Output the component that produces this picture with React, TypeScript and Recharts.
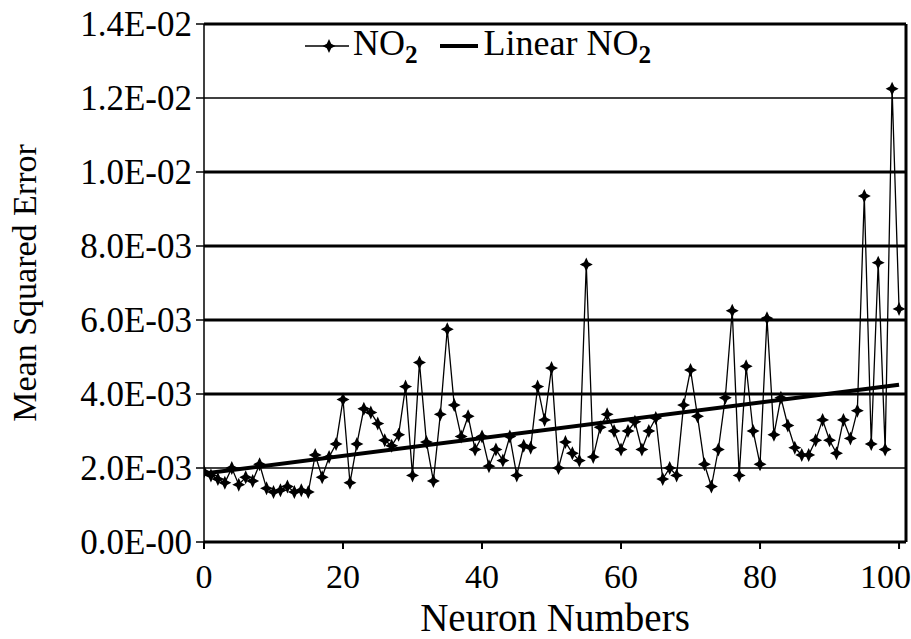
import { Line, LineChart, XAxis, YAxis, ReferenceLine } from 'recharts';

// MSE per neuron number (index = neuron number 0..100)
const mseValues = [
  1.9e-3, 1.8e-3, 1.7e-3, 1.6e-3, 2.0e-3, 1.55e-3, 1.75e-3, 1.65e-3, 2.1e-3, 1.45e-3,
  1.35e-3, 1.4e-3, 1.5e-3, 1.35e-3, 1.4e-3, 1.35e-3, 2.35e-3, 1.75e-3, 2.3e-3, 2.65e-3,
  3.85e-3, 1.6e-3, 2.65e-3, 3.6e-3, 3.5e-3, 3.2e-3, 2.75e-3, 2.6e-3, 2.9e-3, 4.2e-3,
  1.8e-3, 4.85e-3, 2.7e-3, 1.65e-3, 3.45e-3, 5.75e-3, 3.7e-3, 2.85e-3, 3.4e-3, 2.5e-3,
  2.85e-3, 2.05e-3, 2.5e-3, 2.2e-3, 2.85e-3, 1.8e-3, 2.6e-3, 2.55e-3, 4.2e-3, 3.3e-3,
  4.7e-3, 2.0e-3, 2.7e-3, 2.4e-3, 2.2e-3, 7.5e-3, 2.3e-3, 3.1e-3, 3.45e-3, 3.0e-3,
  2.5e-3, 3.0e-3, 3.25e-3, 2.5e-3, 3.0e-3, 3.35e-3, 1.7e-3, 2.0e-3, 1.8e-3, 3.7e-3,
  4.65e-3, 3.4e-3, 2.1e-3, 1.5e-3, 2.5e-3, 3.9e-3, 6.25e-3, 1.8e-3, 4.75e-3, 3.0e-3,
  2.1e-3, 6.05e-3, 2.9e-3, 3.9e-3, 3.15e-3, 2.55e-3, 2.35e-3, 2.35e-3, 2.75e-3, 3.3e-3,
  2.75e-3, 2.4e-3, 3.3e-3, 2.8e-3, 3.55e-3, 9.35e-3, 2.65e-3, 7.55e-3, 2.5e-3, 12.25e-3,
  6.3e-3,
];

// linear trend end points
const trendX = [0, 100];
const trendY = [1.85e-3, 4.25e-3];

const xTicks = [0, 20, 40, 60, 80, 100];
const yTicks = [0, 0.002, 0.004, 0.006, 0.008, 0.01, 0.012, 0.014];
const thinGrid = [0.002, 0.012];

const data = mseValues.map((v, i) => ({ n: i, mse: v }));
const trendData = trendX.map((x, i) => ({ n: x, trend: trendY[i] }));

const FONT = '"Liberation Serif", "Times New Roman", serif';

const fmtSci = (v: number) => {
  if (v === 0) return '0.0E-00';
  const [m, e] = v.toExponential(1).split('e');
  const ei = parseInt(e, 10);
  return `${m}E${ei < 0 ? '-' : '+'}${String(Math.abs(ei)).padStart(2, '0')}`;
};

const starPath = (cx: number, cy: number) =>
  `M${cx},${cy - 7} L${cx + 2.2},${cy - 2.2} L${cx + 6.5},${cy} L${cx + 2.2},${cy + 2.2} L${cx},${cy + 7} L${cx - 2.2},${cy + 2.2} L${cx - 6.5},${cy} L${cx - 2.2},${cy - 2.2} Z`;

const StarDot = (props: any) => {
  const { cx, cy, index } = props;
  if (cx == null || cy == null) return null;
  return <path key={`d${index}`} d={starPath(cx, cy)} fill="#000" />;
};

const ChartLegend = () => (
  <div
    style={{
      position: 'absolute',
      top: 25,
      left: 305,
      display: 'flex',
      alignItems: 'center',
      fontFamily: FONT,
      fontSize: 36,
      color: '#000',
      lineHeight: 1,
      whiteSpace: 'nowrap',
    }}
  >
    <svg width={44} height={20}>
      <line x1={0} y1={10} x2={44} y2={10} stroke="#000" strokeWidth={1.3} />
      <path d={starPath(24, 10)} fill="#000" />
    </svg>
    <span style={{ marginLeft: 4 }}>
      NO<sub style={{ fontSize: '0.7em', fontWeight: 'bold' }}>2</sub>
    </span>
    <svg width={38} height={20} style={{ marginLeft: 22 }}>
      <line x1={0} y1={10} x2={38} y2={10} stroke="#000" strokeWidth={4} />
    </svg>
    <span style={{ marginLeft: 6 }}>
      Linear NO<sub style={{ fontSize: '0.7em', fontWeight: 'bold' }}>2</sub>
    </span>
  </div>
);

export default function App() {
  return (
    <div style={{ position: 'absolute', left: 0, top: 0, width: 911, height: 639, background: '#fff' }}>
      <LineChart width={911} height={639} margin={{ top: 24, right: 5, left: 104, bottom: 37 }}>
        <XAxis
          type="number"
          dataKey="n"
          domain={[0, 101]}
          ticks={xTicks}
          allowDataOverflow
          stroke="#000"
          axisLine={{ stroke: '#000', strokeWidth: 3 }}
          tickLine={{ stroke: '#000', strokeWidth: 2 }}
          tickSize={7}
          tickMargin={15}
          height={60}
          tick={{ fill: '#000', fontFamily: FONT, fontSize: 34 }}
          label={{ value: 'Neuron Numbers', position: 'bottom', offset: 1, fill: '#000', fontFamily: FONT, fontSize: 39 }}
        />
        <YAxis
          type="number"
          domain={[0, 0.014]}
          ticks={yTicks}
          width={100}
          stroke="#000"
          axisLine={{ stroke: '#000', strokeWidth: 1.5 }}
          tickLine={{ stroke: '#000', strokeWidth: 1.5 }}
          tickSize={8}
          tickMargin={4}
          tickFormatter={fmtSci}
          tick={{ fill: '#000', fontFamily: FONT, fontSize: 35 }}
          label={{
            value: 'Mean Squared Error',
            angle: -90,
            position: 'left',
            offset: 80,
            fill: '#000',
            fontFamily: FONT,
            fontSize: 34,
            style: { textAnchor: 'middle' },
          }}
        />
        {yTicks.slice(1).map((v) => (
          <ReferenceLine key={v} y={v} stroke="#000" strokeWidth={thinGrid.includes(v) ? 1.5 : 2.8} />
        ))}
        <ReferenceLine x={101} stroke="#000" strokeWidth={3} />
        <Line
          data={data}
          dataKey="mse"
          stroke="#000"
          strokeWidth={1.3}
          dot={StarDot}
          activeDot={false}
          isAnimationActive={false}
          name="NO2"
        />
        <Line
          data={trendData}
          dataKey="trend"
          stroke="#000"
          strokeWidth={4}
          dot={false}
          activeDot={false}
          isAnimationActive={false}
          name="Linear NO2"
        />
      </LineChart>
      <ChartLegend />
    </div>
  );
}
